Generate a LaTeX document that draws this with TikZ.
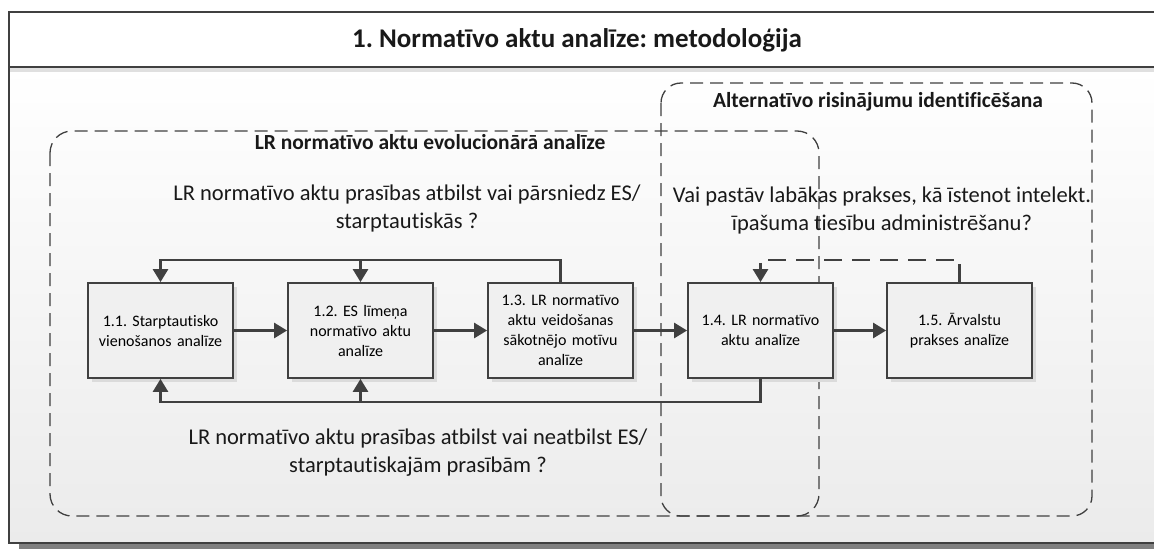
\documentclass[tikz,border=0pt]{standalone}
\usepackage{fontspec}
\setmainfont{Carlito}[RawFeature={-liga}]
\usetikzlibrary{arrows.meta}
\definecolor{ln}{HTML}{404040}
\definecolor{boxfill}{HTML}{F0F0F0}
\definecolor{bodybot}{HTML}{EBEBEB}
\frenchspacing
\begin{document}
\begin{tikzpicture}[x=1pt,y=-1pt,
  stepbox/.style={draw=ln, line width=1.8pt, fill=boxfill, minimum width=145pt, minimum height=95pt,
    inner sep=0pt, align=center, text width=140pt, font=\fontsize{16}{20}\selectfont},
  boxshadow/.style={fill=black!14, draw=none},
  link/.style={draw=ln, line width=2.6pt},
  tip/.style={-{Triangle[length=13pt,width=15pt]}},
  groupbox/.style={draw=ln, line width=1.3pt, dash pattern=on 13pt off 7pt, rounded corners=22pt},
  feedback/.style={dash pattern=on 18pt off 10pt},
  qtext/.style={align=center, font=\fontsize{22.5}{28}\selectfont, text=black!90},
  gtitle/.style={align=center, font=\bfseries\fontsize{21.5}{24}\selectfont, text=black!90}]
\useasboundingbox (0,0) rectangle (1154,549);
% frame
\fill[black!50] (19,20) rectangle (1170,549);
\shade[top color=white, bottom color=bodybot] (9,67) rectangle (1162,543);
\fill[white] (9,12) rectangle (1162,67);
\fill[black!12] (9,68) rectangle (1162,72);
\draw[ln, line width=1.4pt] (9,12) rectangle (1162,543);
\draw[ln, line width=1.6pt] (9,67) -- (1162,67);
\node[font=\bfseries\fontsize{27}{30}\selectfont, text=black!90] (title) at (577,40) {1. Normatīvo aktu analīze: metodoloģija};
% group boxes
\draw[groupbox] (50,131) rectangle (819,516);
\draw[groupbox, rounded corners=20pt] (661,83) rectangle (1092,516);
\node[gtitle] (g1) at (430,142) {LR normatīvo aktu evolucionārā analīze};
\node[gtitle] (g2) at (878,102) {Alternatīvo risinājumu identificēšana};
\node[qtext] (q1) at (407,208) {LR normatīvo aktu prasības atbilst vai pārsniedz ES/\\starptautiskās ?};
\node[qtext] (q2) at (882,210) {Vai pastāv labākas prakses, kā īstenot intelekt.\\īpašuma tiesību administrēšanu?};
\node[qtext] (q3) at (418,453) {LR normatīvo aktu prasības atbilst vai neatbilst ES/\\starptautiskajām prasībām ?};
% step boxes
\foreach \x in {160.5,360.5,560.5,760.5,959.5}
  \fill[boxshadow] (\x-72.5+4,283+4) rectangle (\x+72.5+4,378+4);
\node[stepbox] (b11) at (160.5,330.5) {1.1. Starptautisko\\vienošanos analīze};
\node[stepbox] (b12) at (360.5,330.5) {1.2. ES līmeņa\\normatīvo aktu\\analīze};
\node[stepbox] (b13) at (560.5,330.5) {1.3. LR normatīvo\\aktu veidošanas\\sākotnējo motīvu\\analīze};
\node[stepbox] (b14) at (760.5,330.5) {1.4. LR normatīvo\\aktu analīze};
\node[stepbox] (b15) at (959.5,330.5) {1.5. Ārvalstu\\prakses analīze};
\coordinate (ytop) at (0,260);
\coordinate (ybot) at (0,402);
% connectors
\draw[link, tip] (b11) -- (b12);
\draw[link, tip] (b12) -- (b13);
\draw[link, tip] (b13) -- (b14);
\draw[link, tip] (b14) -- (b15);
\draw[link, tip] (b13.north) -- (b13.north |- ytop) -| (b11.north);
\draw[link, tip] (b12.north |- ytop) -- (b12.north);
\draw[link, tip] (b14.south) -- (b14.south |- ybot) -| (b11.south);
\draw[link, tip] (b12.south |- ybot) -- (b12.south);
\draw[link, feedback, tip] (b15.north) -- (b15.north |- ytop) -| (b14.north);
\end{tikzpicture}
\end{document}
